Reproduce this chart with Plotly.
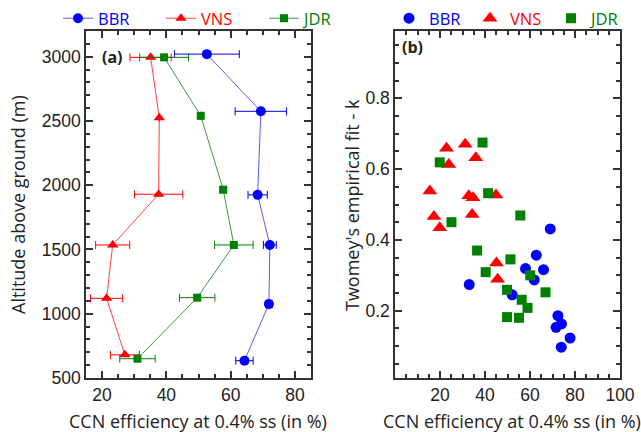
import plotly.graph_objects as go

# ---- Panel (a): vertical profiles of CCN efficiency ----
bbr_alt = [3020, 2575, 1925, 1535, 1075, 635]
bbr_eff = [52.6, 69.4, 68.4, 72.2, 71.9, 64.3]
bbr_err = [10.1, 8.0, 3.0, 2.0, 1.0, 2.7]

vns_alt = [2995, 2525, 1930, 1535, 1120, 680]
vns_eff = [35.1, 37.8, 37.6, 23.3, 21.4, 27.1]
vns_err = [6.4, 0.0, 7.5, 5.3, 5.0, 4.5]

jdr_alt = [2995, 2540, 1965, 1535, 1125, 650]
jdr_eff = [39.3, 50.7, 57.7, 61.0, 49.6, 31.0]
jdr_err = [7.6, 0.0, 1.0, 6.0, 5.5, 5.5]

# ---- Panel (b): Twomey k versus CCN efficiency ----
bbr_ccn = [69.0, 62.8, 58.0, 66.0, 61.9, 33.0, 52.1, 72.4, 74.0, 71.6, 77.8, 73.9]
bbr_k = [0.431, 0.357, 0.319, 0.316, 0.287, 0.274, 0.245, 0.186, 0.163, 0.153, 0.123, 0.097]

vns_ccn = [22.9, 31.2, 23.9, 35.9, 15.5, 32.8, 34.7, 44.9, 17.3, 34.3, 19.9, 45.1, 45.6]
vns_k = [0.659, 0.670, 0.613, 0.632, 0.538, 0.525, 0.519, 0.527, 0.466, 0.472, 0.434, 0.335, 0.289]

jdr_ccn = [38.9, 19.9, 41.4, 25.1, 55.7, 36.5, 51.3, 40.3, 60.1, 49.8, 66.9, 56.3, 58.9, 49.8, 55.1]
jdr_k = [0.675, 0.619, 0.532, 0.450, 0.469, 0.370, 0.345, 0.309, 0.300, 0.259, 0.252, 0.231, 0.208, 0.182, 0.180]

sites = ["BBR", "VNS", "JDR"]
colors = {"BBR": "#0000ff", "VNS": "#ff0000", "JDR": "#008000"}
line_colors = {"BBR": "#5a5aff", "VNS": "#ff4040", "JDR": "#3a9a3a"}
symbols = {"BBR": "circle", "VNS": "triangle-up", "JDR": "square"}
size_a = {"BBR": 10, "VNS": 10, "JDR": 8}
size_b = {"BBR": 11, "VNS": 13, "JDR": 10}

profiles = {
    "BBR": (bbr_eff, bbr_alt, bbr_err),
    "VNS": (vns_eff, vns_alt, vns_err),
    "JDR": (jdr_eff, jdr_alt, jdr_err),
}
scatters = {
    "BBR": (bbr_ccn, bbr_k),
    "VNS": (vns_ccn, vns_k),
    "JDR": (jdr_ccn, jdr_k),
}

W, H = 641, 432
fig = go.Figure()

for s in sites:
    x, y, e = profiles[s]
    fig.add_trace(go.Scatter(
        x=x, y=y, mode="lines+markers",
        name=f'<span style="color:{colors[s]}">{s}</span>',
        line=dict(color=line_colors[s], width=1),
        marker=dict(symbol=symbols[s], size=size_a[s], color=colors[s]),
        error_x=dict(type="data", array=e, symmetric=True, color=colors[s],
                     thickness=1, width=4),
        xaxis="x", yaxis="y", legend="legend",
    ))

for s in sites:
    x, y = scatters[s]
    fig.add_trace(go.Scatter(
        x=x, y=y, mode="markers",
        name=f'<span style="color:{colors[s]}">{s}</span>',
        marker=dict(symbol=symbols[s], size=size_b[s], color=colors[s]),
        xaxis="x2", yaxis="y2", legend="legend2",
    ))

tick_font = dict(family="Liberation Sans, Arial, sans-serif", size=17.5, color="#222222")
axis_common = dict(
    showline=True, linecolor="#333333", linewidth=1.5, mirror="allticks",
    ticks="inside", ticklen=7, tickwidth=1.5, tickcolor="#333333",
    showgrid=False, zeroline=False, tickfont=tick_font, automargin=False,
)

def px_x(p):
    return p / W

def px_y(p):
    return 1 - p / H

def minor(step):
    return dict(tickmode="linear", tick0=0, dtick=step, ticklen=4,
                tickwidth=1.5, tickcolor="#333333", ticks="inside")

legend_font = dict(family="Open Sans, sans-serif", size=16.5)

fig.update_layout(
    width=W, height=H,
    margin=dict(l=0, r=0, t=0, b=0),
    paper_bgcolor="white", plot_bgcolor="white",
    font=dict(family="Open Sans, sans-serif", color="#222222"),
    xaxis=dict(domain=[px_x(86), px_x(311)], range=[15, 85],
               tickvals=[20, 40, 60, 80], anchor="y", minor=minor(5),
               **axis_common),
    yaxis=dict(domain=[px_y(378), px_y(31)], range=[500, 3200],
               tickvals=[500, 1000, 1500, 2000, 2500, 3000], anchor="x",
               minor=minor(100), **axis_common),
    xaxis2=dict(domain=[px_x(395), px_x(620)], range=[0, 100],
                tickvals=[20, 40, 60, 80, 100], anchor="y2", minor=minor(5),
                **axis_common),
    yaxis2=dict(domain=[px_y(378), px_y(31)], range=[0.01, 0.99],
                tickvals=[0.2, 0.4, 0.6, 0.8], anchor="x2", minor=minor(0.05),
                **axis_common),
    legend=dict(orientation="h", x=px_x(58), y=px_y(1), xanchor="left", yanchor="top",
                font=legend_font, entrywidth=58, entrywidthmode="pixels",
                bgcolor="rgba(0,0,0,0)", borderwidth=0),
    legend2=dict(orientation="h", x=px_x(389), y=px_y(1), xanchor="left", yanchor="top",
                 font=legend_font, entrywidth=36, entrywidthmode="pixels",
                 bgcolor="rgba(0,0,0,0)", borderwidth=0),
    showlegend=True,
)

title_font = dict(family="Open Sans, sans-serif", size=18, color="#222222")
annotations = [
    dict(text="CCN efficiency at 0.4% ss (in %)", x=px_x(198), y=px_y(421),
         xref="paper", yref="paper", showarrow=False, font=title_font,
         xanchor="center", yanchor="middle"),
    dict(text="CCN efficiency at 0.4% ss (in %)", x=px_x(512), y=px_y(421),
         xref="paper", yref="paper", showarrow=False, font=title_font,
         xanchor="center", yanchor="middle"),
    dict(text="Altitude above ground (m)", x=px_x(18), y=px_y(205),
         xref="paper", yref="paper", showarrow=False, font=title_font,
         textangle=-90, xanchor="center", yanchor="middle"),
    dict(text="Twomey's empirical fit - k", x=px_x(352), y=px_y(205),
         xref="paper", yref="paper", showarrow=False, font=title_font,
         textangle=-90, xanchor="center", yanchor="middle"),
    dict(text="<b>(a)</b>", x=px_x(100), y=px_y(57), xref="paper", yref="paper",
         showarrow=False, xanchor="left", yanchor="middle",
         font=dict(family="Open Sans, sans-serif", size=16, color="#222222")),
    dict(text="<b>(b)</b>", x=px_x(400), y=px_y(47), xref="paper", yref="paper",
         showarrow=False, xanchor="left", yanchor="middle",
         font=dict(family="Open Sans, sans-serif", size=16, color="#222222")),
]
fig.update_layout(annotations=annotations)

fig.write_html("out.html")
